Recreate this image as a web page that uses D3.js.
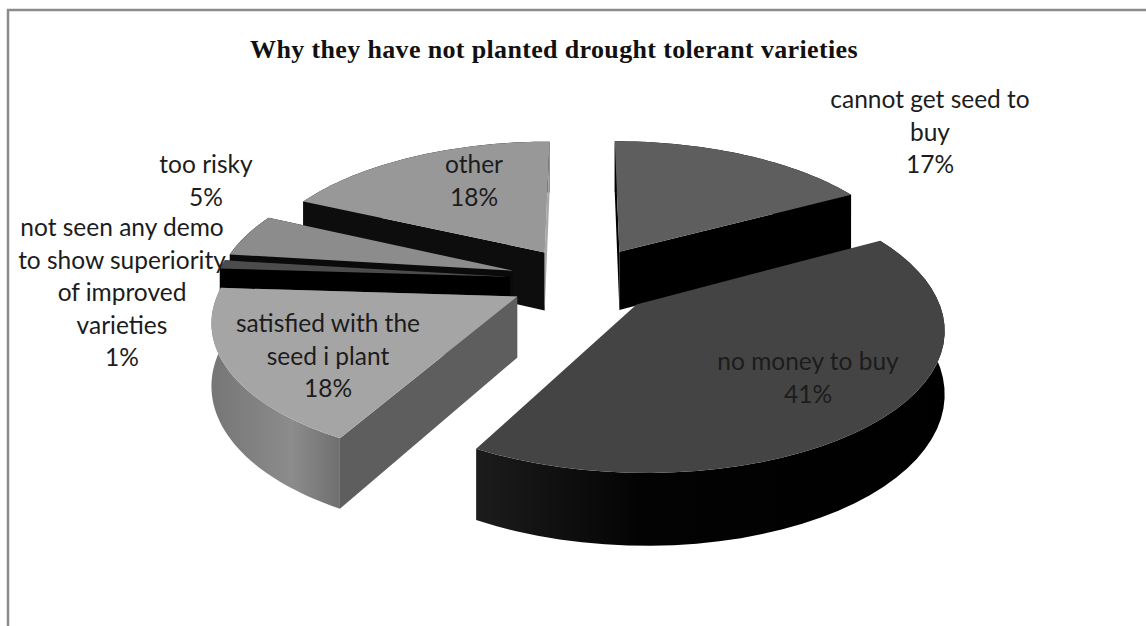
<!DOCTYPE html>
<html><head><meta charset="utf-8">
<style>html,body{margin:0;padding:0;background:#fff;overflow:hidden}svg{display:block}</style>
<script src="https://cdnjs.cloudflare.com/ajax/libs/d3/7.8.5/d3.min.js"></script>
</head><body><svg id="c" width="1146" height="626"></svg>
<script>
const chartTitle = "Why they have not planted drought tolerant varieties";
const categories = ["cannot get seed to buy","no money to buy","satisfied with the seed i plant","not seen any demo to show superiority of improved varieties","too risky","other"];
const values = [17,41,18,1,5,18];
const labelLines = [["cannot get seed to","buy"],["no money to buy"],["satisfied with the","seed i plant"],["not seen any demo","to show superiority","of improved","varieties"],["too risky"],["other"]];
const topColors = ["#5e5e5e","#444444","#a5a5a5","#4c4c4c","#8c8c8c","#989898"];

const svg = d3.select("#c");
const W = 1146, H = 626;
const EXPLODE = 0.25, PERSP = 0.15, DEPTH = 60;
const sx = d3.scaleLinear().domain([0,1]).range([583,878]);
const sy = d3.scaleLinear().domain([0,1]).range([280,415]);
const proj = (u,v,z=0) => { const s = 1/(1-PERSP*v); return [sx(s*u), sy(s*v)+z*DEPTH*s]; };

const arcs = d3.pie().sort(null).value(d=>d)(values);
const line = d3.line();
const defs = svg.append("defs");
function grad(id,x1,x2,stops){
  const g = defs.append("linearGradient").attr("id",id).attr("gradientUnits","userSpaceOnUse")
    .attr("x1",x1).attr("x2",x2).attr("y1",0).attr("y2",0);
  stops.forEach(s=>g.append("stop").attr("offset",s[0]).attr("stop-color",s[1]));
}
grad("wall2",478,945,[[0,"#1c1c1c"],[0.35,"#030303"],[1,"#000"]]);
grad("wall3",212,345,[[0,"#767676"],[0.6,"#8c8c8c"],[1,"#6c6c6c"]]);

const styles = [
 {wall:"#000",start:"#000",end:"#000"},
 {wall:"url(#wall2)",start:"none",end:"none"},
 {wall:"url(#wall3)",start:"#5e5e5e",end:"#5e5e5e"},
 {wall:"#000",start:"#000",end:"#000"},
 {wall:"#0a0a0a",start:"#0a0a0a",end:"#0a0a0a"},
 {wall:"#0d0d0d",start:"#0d0d0d",end:"#a8a8a8"}
];
const order = [5,0,4,3,2,1];

order.forEach(i=>{
  const a = arcs[i];
  const mid = (a.startAngle+a.endAngle)/2;
  const ou = EXPLODE*Math.sin(mid), ov = -EXPLODE*Math.cos(mid);
  const P = (r,t,z)=>proj(ou+r*Math.sin(t), ov-r*Math.cos(t), z);
  const ts = d3.range(0,41).map(k=>a.startAngle+(a.endAngle-a.startAngle)*k/40);
  const g = svg.append("g");
  const top = ts.map(t=>P(1,t,0));
  const bot = ts.map(t=>P(1,t,1));
  const st = styles[i];
  g.append("path").attr("fill",st.wall).attr("d",line(top.concat(bot.slice().reverse()))+"Z");
  g.append("path").attr("fill",st.start).attr("d",line([P(0,0,0),P(1,a.startAngle,0),P(1,a.startAngle,1),P(0,0,1)])+"Z");
  g.append("path").attr("fill",st.end).attr("d",line([P(0,0,0),P(1,a.endAngle,0),P(1,a.endAngle,1),P(0,0,1)])+"Z");
  g.append("path").attr("fill",topColors[i]).attr("d",line([P(0,0,0)].concat(top))+"Z");
});

svg.append("path").attr("d",`M8 ${H}V10H${W}`).attr("fill","none").attr("stroke","#8c8c8c").attr("stroke-width",2.5);

svg.append("text").attr("x",554).attr("y",58).attr("text-anchor","middle")
  .attr("font-family","'Liberation Serif',serif").attr("font-weight","bold").attr("font-size",26).attr("letter-spacing",0.35).attr("fill","#111").text(chartTitle);

const anchors = [[930,108],[808,370],[328,332],[122,236],[206,173],[474,173]];
const lh = 32.6;
labelLines.forEach((ls,i)=>{
  const t = svg.append("text").attr("text-anchor","middle").attr("font-family","Lato,sans-serif").attr("font-size",24.5).attr("fill","#1c1c1c");
  ls.concat([values[i]+"%"]).forEach((s,k)=>{
    t.append("tspan").attr("x",anchors[i][0]).attr("y",anchors[i][1]+k*lh).text(s);
  });
});
</script></body></html>
